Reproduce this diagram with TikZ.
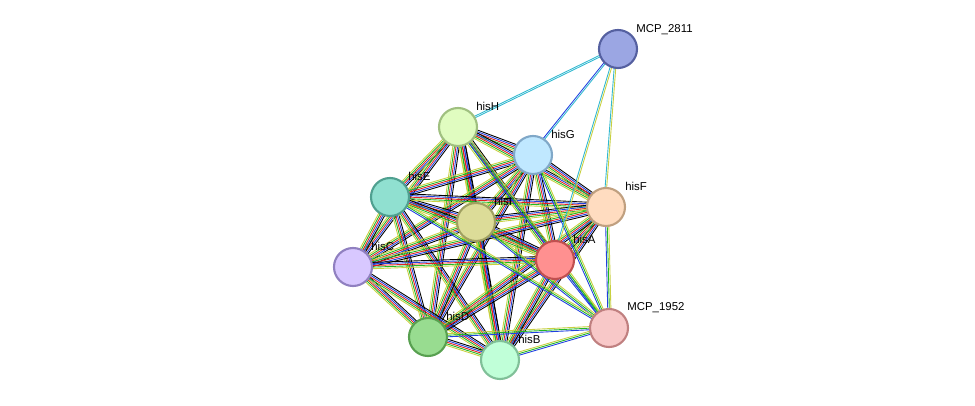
\documentclass[tikz,border=0pt]{standalone}
\usepackage{fontspec}
\setmainfont{Liberation Sans}
\usetikzlibrary{calc,backgrounds}

\definecolor{tmine}{HTML}{C8D040}
\definecolor{nbhd}{HTML}{22B822}
\definecolor{fusn}{HTML}{E02020}
\definecolor{cooc}{HTML}{2040E0}
\definecolor{dbase}{HTML}{30B8D0}
\definecolor{fA}{HTML}{9BA6E3}\definecolor{dA}{HTML}{5560A0}
\definecolor{fB}{HTML}{E0FCC0}\definecolor{dB}{HTML}{A0C080}
\definecolor{fC}{HTML}{C0E8FF}\definecolor{dC}{HTML}{80A8C8}
\definecolor{fD}{HTML}{90E0D0}\definecolor{dD}{HTML}{50A090}
\definecolor{fE}{HTML}{DCDC98}\definecolor{dE}{HTML}{A0A060}
\definecolor{fF}{HTML}{FFDCC0}\definecolor{dF}{HTML}{C0A080}
\definecolor{fG}{HTML}{D8C8FF}\definecolor{dG}{HTML}{9080C0}
\definecolor{fH}{HTML}{FF9090}\definecolor{dH}{HTML}{C05050}
\definecolor{fI}{HTML}{98DC90}\definecolor{dI}{HTML}{58A050}
\definecolor{fJ}{HTML}{C0FFD8}\definecolor{dJ}{HTML}{80C098}
\definecolor{fK}{HTML}{F8C8C8}\definecolor{dK}{HTML}{C08080}

\tikzset{
  prot/.style={circle, minimum size=0.76cm, inner sep=0pt, line width=1.2pt, fill=f#1, draw=d#1},
  lbl/.style={font=\fontsize{6.5}{7}\selectfont, anchor=south west, inner sep=0pt, text=black}
}

% one coloured line per evidence channel, offset side by side
\newcommand\strand[3]{%
  \foreach \c [count=\i] in {#3} {%
    \pgfmathsetmacro\o{(\i-2.5)*0.9}
    \draw[\c, line width=0.5pt] ($(#1)!\o pt!90:(#2)$) -- ($(#2)!\o pt!-90:(#1)$);
  }%
}

\begin{document}
\begin{tikzpicture}[x=0.02cm, y=-0.02cm]
  \useasboundingbox (0,0) rectangle (975,406);

  \node[prot=A] (mcp2811) at (618,49) {};
  \node[prot=B] (hisH) at (458,127) {};
  \node[prot=C] (hisG) at (533,155) {};
  \node[prot=D] (hisE) at (390,197) {};
  \node[prot=E] (hisI) at (476,222) {};
  \node[prot=F] (hisF) at (606,207) {};
  \node[prot=G] (hisC) at (353,267) {};
  \node[prot=H] (hisA) at (555,260) {};
  \node[prot=I] (hisD) at (428,337) {};
  \node[prot=J] (hisB) at (500,360) {};
  \node[prot=K] (mcp1952) at (609,328) {};

  \node[lbl] at (636,35) {MCP\_2811};
  \node[lbl] at (476,111) {hisH};
  \node[lbl] at (551,139) {hisG};
  \node[lbl] at (408,181) {hisE};
  \node[lbl] at (494,206) {hisI};
  \node[lbl] at (625,191) {hisF};
  \node[lbl] at (371,251) {hisC};
  \node[lbl] at (573,244) {hisA};
  \node[lbl] at (446,321) {hisD};
  \node[lbl] at (518,344) {hisB};
  \node[lbl] at (627,313) {MCP\_1952};

  \begin{scope}[on background layer]
    \foreach \a/\b in {hisH/hisG, hisH/hisE, hisH/hisI, hisH/hisF, hisH/hisC, hisH/hisA,
        hisH/hisD, hisH/hisB, hisG/hisE, hisG/hisI, hisG/hisF, hisG/hisC, hisG/hisA,
        hisG/hisD, hisG/hisB, hisE/hisI, hisE/hisF, hisE/hisC, hisE/hisA, hisE/hisD,
        hisE/hisB, hisI/hisF, hisI/hisC, hisI/hisA, hisI/hisD, hisI/hisB, hisF/hisC,
        hisF/hisA, hisF/hisD, hisF/hisB, hisC/hisA, hisC/hisD, hisC/hisB, hisA/hisD,
        hisA/hisB, hisD/hisB}
      \strand{\a}{\b}{tmine,nbhd,fusn,cooc,black};
    \foreach \a in {hisF, hisA, hisB, hisD, hisG, hisH, hisI, hisE}
      \strand{mcp1952}{\a}{tmine,nbhd,cooc};
    \strand{mcp2811}{hisH}{dbase,dbase};
    \strand{mcp2811}{hisG}{cooc,dbase};
    \strand{mcp2811}{hisF}{dbase,tmine};
    \strand{mcp2811}{hisA}{dbase,tmine};
  \end{scope}
\end{tikzpicture}
\end{document}
